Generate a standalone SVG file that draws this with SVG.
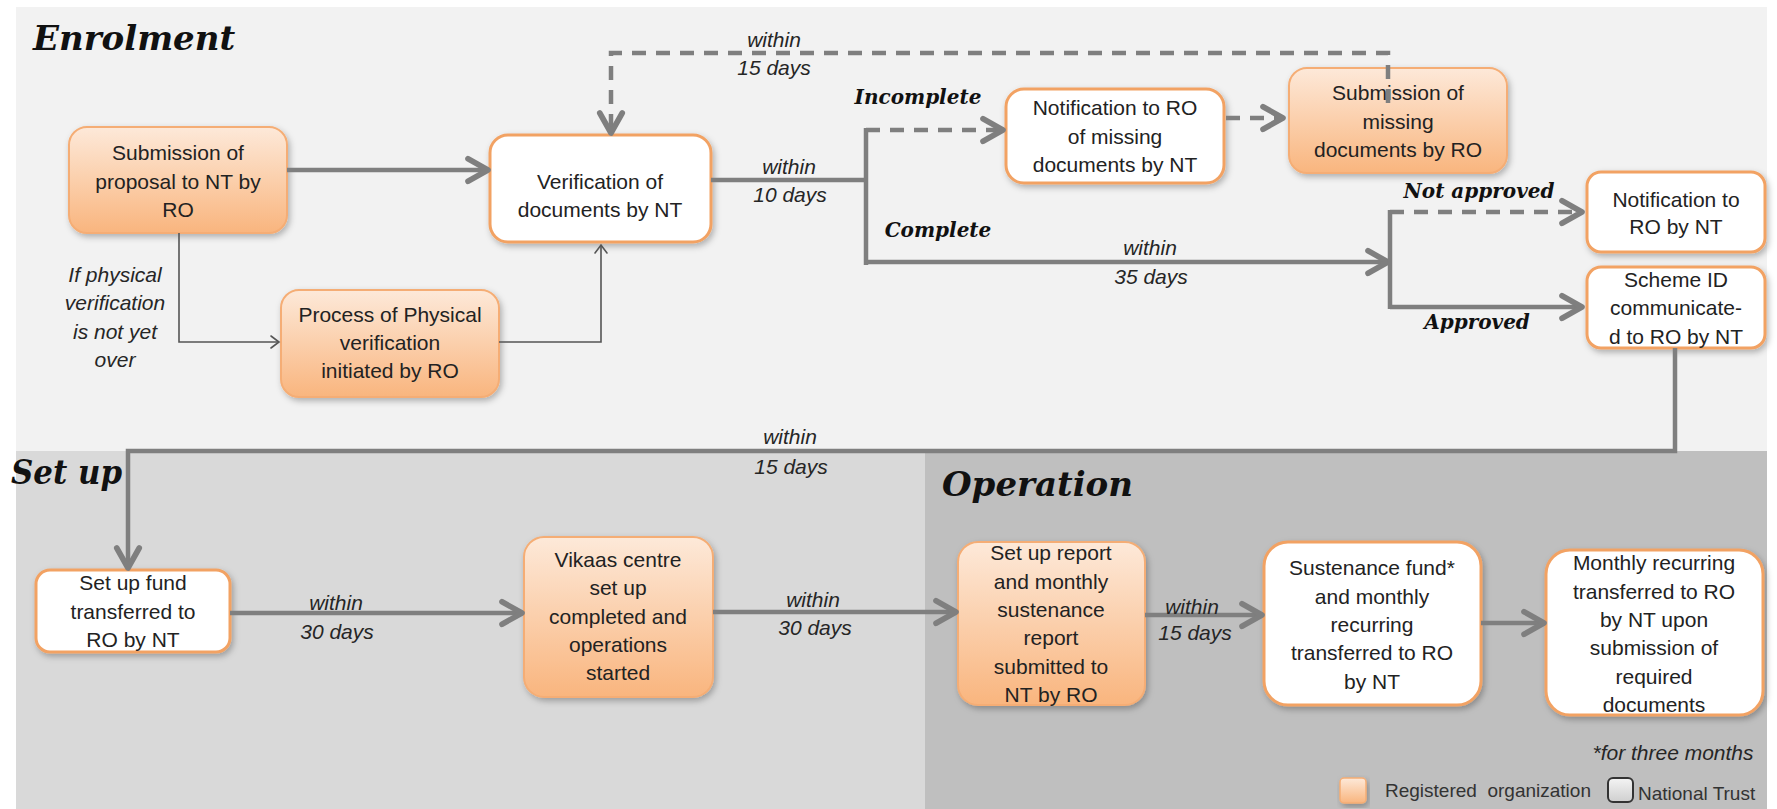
<svg xmlns="http://www.w3.org/2000/svg" width="1777" height="809" viewBox="0 0 1777 809">
<defs>
<linearGradient id="og" x1="0" y1="0" x2="0" y2="1">
<stop offset="0" stop-color="#fde9d9"/>
<stop offset="1" stop-color="#f9b57e"/>
</linearGradient>
<linearGradient id="gg" x1="0" y1="0" x2="0" y2="1">
<stop offset="0" stop-color="#f4f4f4"/>
<stop offset="1" stop-color="#cfcfcf"/>
</linearGradient>
<filter id="sh" x="-10%" y="-10%" width="125%" height="130%">
<feDropShadow dx="2" dy="3" stdDeviation="3" flood-color="#000" flood-opacity="0.28"/>
</filter>
<marker id="ah" markerUnits="userSpaceOnUse" markerWidth="30" markerHeight="30" viewBox="-20 -12 24 24" refX="0" refY="0" orient="auto">
<path d="M-16,-9 L0,0 L-16,9" fill="none" stroke="#7f7f7f" stroke-width="4.5" stroke-linecap="round" stroke-linejoin="round" stroke-dasharray="none"/>
</marker>
<marker id="at" markerUnits="userSpaceOnUse" markerWidth="16" markerHeight="16" viewBox="-10 -8 12 16" refX="0" refY="0" orient="auto">
<path d="M-8,-6 L0,0 L-8,6" fill="none" stroke="#555" stroke-width="1.6" stroke-linecap="round"/>
</marker>
</defs>
<style>
.org{fill:url(#og);stroke:#f5ad74;stroke-width:2;filter:url(#sh)}
.nt{fill:#fff;stroke:#f2a263;stroke-width:3;filter:url(#sh)}
.t{font-family:"Liberation Sans",Arial,sans-serif;font-size:21px;fill:#222;text-anchor:middle}
.it{font-family:"Liberation Sans",Arial,sans-serif;font-size:21px;font-style:italic;fill:#262626;text-anchor:middle}
.bl{font-family:"DejaVu Serif","Liberation Serif",serif;font-size:20px;font-style:italic;font-weight:bold;fill:#111;text-anchor:middle}
.ti{font-family:"DejaVu Serif","Liberation Serif",serif;font-size:34px;font-style:italic;font-weight:bold;fill:#111}
.c{fill:none;stroke:#7f7f7f;stroke-width:4.5}
.d{stroke-dasharray:14 10}
.thin{fill:none;stroke:#555;stroke-width:1.6}
.lg{font-family:"Liberation Sans",Arial,sans-serif;font-size:19px;fill:#333}
</style>
<rect x="0" y="0" width="1777" height="809" fill="#fff"/>
<g id="panels">
<rect x="16" y="7" width="1751" height="444" fill="#f2f2f2"/>
<rect x="16" y="451" width="909" height="358" fill="#d9d9d9"/>
<rect x="925" y="451" width="842" height="358" fill="#bfbfbf"/>
<text class="ti" x="33" y="50">Enrolment</text>
<text class="ti" x="11" y="484" font-size="31" textLength="111" lengthAdjust="spacingAndGlyphs">Set up</text>
<text class="ti" x="942" y="496">Operation</text>
</g>
<g id="n1">
<rect class="org" x="69" y="127" width="218" height="106" rx="18"/>
<text class="t"><tspan x="178" y="160">Submission of</tspan><tspan x="178" y="189">proposal to NT by</tspan><tspan x="178" y="217">RO</tspan></text>
</g>
<g id="n2">
<rect class="org" x="281" y="290" width="218" height="107" rx="18"/>
<text class="t"><tspan x="390" y="322">Process of Physical</tspan><tspan x="390" y="350">verification</tspan><tspan x="390" y="378">initiated by RO</tspan></text>
</g>
<g id="n3">
<rect class="nt" x="490" y="135" width="221" height="107" rx="18"/>
<text class="t"><tspan x="600" y="189">Verification of</tspan><tspan x="600" y="217">documents by NT</tspan></text>
</g>
<g id="n4">
<rect class="nt" x="1006" y="89" width="218" height="94" rx="18"/>
<text class="t"><tspan x="1115" y="115">Notification to RO</tspan><tspan x="1115" y="144">of missing</tspan><tspan x="1115" y="172">documents by NT</tspan></text>
</g>
<g id="n5">
<rect class="org" x="1289" y="68" width="218" height="105" rx="18"/>
<text class="t"><tspan x="1398" y="100">Submission of</tspan><tspan x="1398" y="129">missing</tspan><tspan x="1398" y="157">documents by RO</tspan></text>
</g>
<g id="n6">
<rect class="nt" x="1587" y="172" width="178" height="80" rx="14"/>
<text class="t"><tspan x="1676" y="207">Notification to</tspan><tspan x="1676" y="234">RO by NT</tspan></text>
</g>
<g id="n7">
<rect class="nt" x="1587" y="267" width="178" height="81" rx="14"/>
<text class="t"><tspan x="1676" y="287">Scheme ID</tspan><tspan x="1676" y="315">communicate-</tspan><tspan x="1676" y="344">d to RO by NT</tspan></text>
</g>
<g id="n8">
<rect class="nt" x="36" y="570" width="194" height="82" rx="14"/>
<text class="t"><tspan x="133" y="590">Set up fund</tspan><tspan x="133" y="619">transferred to</tspan><tspan x="133" y="647">RO by NT</tspan></text>
</g>
<g id="n9">
<rect class="org" x="524" y="537" width="189" height="160" rx="20"/>
<text class="t"><tspan x="618" y="567">Vikaas centre</tspan><tspan x="618" y="595">set up</tspan><tspan x="618" y="624">completed and</tspan><tspan x="618" y="652">operations</tspan><tspan x="618" y="680">started</tspan></text>
</g>
<g id="n10">
<rect class="org" x="958" y="542" width="187" height="163" rx="20"/>
<text class="t"><tspan x="1051" y="560">Set up report</tspan><tspan x="1051" y="589">and monthly</tspan><tspan x="1051" y="617">sustenance</tspan><tspan x="1051" y="645">report</tspan><tspan x="1051" y="674">submitted to</tspan><tspan x="1051" y="702">NT by RO</tspan></text>
</g>
<g id="n11">
<rect class="nt" x="1264" y="542" width="217" height="163" rx="24"/>
<text class="t"><tspan x="1372" y="575">Sustenance fund*</tspan><tspan x="1372" y="604">and monthly</tspan><tspan x="1372" y="632">recurring</tspan><tspan x="1372" y="660">transferred to RO</tspan><tspan x="1372" y="689">by NT</tspan></text>
</g>
<g id="n12">
<rect class="nt" x="1546" y="550" width="217" height="165" rx="24"/>
<text class="t"><tspan x="1654" y="570">Monthly recurring</tspan><tspan x="1654" y="599">transferred to RO</tspan><tspan x="1654" y="627">by NT upon</tspan><tspan x="1654" y="655">submission of</tspan><tspan x="1654" y="684">required</tspan><tspan x="1654" y="712">documents</tspan></text>
</g>
<g id="connectors">
<path class="c" d="M287,170 H488" marker-end="url(#ah)"/>
<path class="thin" d="M179,233 V342 H279" marker-end="url(#at)"/>
<path class="thin" d="M499,342 H601 V245" marker-end="url(#at)"/>
<path class="c" d="M711,180 H866"/>
<path class="c" d="M866,128 V265"/>
<path class="c d" d="M866,130 H1003" marker-end="url(#ah)"/>
<path class="c" d="M866,262 H1388" marker-end="url(#ah)"/>
<path class="c d" d="M1226,118 H1283" marker-end="url(#ah)"/>
<path class="c d" d="M1388,103 V53 H611 V133" marker-end="url(#ah)"/>
<path class="c" d="M1390,210 V309"/>
<path class="c d" d="M1390,212 H1582" marker-end="url(#ah)"/>
<path class="c" d="M1390,307 H1582" marker-end="url(#ah)"/>
<path class="c" d="M1675,348 V451 H128 V568" marker-end="url(#ah)"/>
<path class="c" d="M230,613 H522" marker-end="url(#ah)"/>
<path class="c" d="M713,612 H956" marker-end="url(#ah)"/>
<path class="c" d="M1145,615 H1262" marker-end="url(#ah)"/>
<path class="c" d="M1481,623 H1544" marker-end="url(#ah)"/>
</g>
<g id="labels">
<text class="it"><tspan x="774" y="47">within</tspan><tspan x="774" y="75">15 days</tspan></text>
<text class="it"><tspan x="789" y="174">within</tspan><tspan x="790" y="202">10 days</tspan></text>
<text class="it"><tspan x="1150" y="255">within</tspan><tspan x="1151" y="284">35 days</tspan></text>
<text class="it"><tspan x="115" y="282">If physical</tspan><tspan x="115" y="310">verification</tspan><tspan x="115" y="339">is not yet</tspan><tspan x="115" y="367">over</tspan></text>
<text class="it"><tspan x="790" y="444">within</tspan><tspan x="791" y="474">15 days</tspan></text>
<text class="it"><tspan x="336" y="610">within</tspan><tspan x="337" y="639">30 days</tspan></text>
<text class="it"><tspan x="813" y="607">within</tspan><tspan x="815" y="635">30 days</tspan></text>
<text class="it"><tspan x="1192" y="614">within</tspan><tspan x="1195" y="640">15 days</tspan></text>
<text class="bl" x="918" y="104">Incomplete</text>
<text class="bl" x="938" y="237">Complete</text>
<text class="bl" x="1479" y="198">Not approved</text>
<text class="bl" x="1477" y="329">Approved</text>
<text class="it" x="1673" y="760" font-size="20">*for three months</text>
</g>
<g id="legend">
<rect x="1340" y="778" width="26" height="25" rx="4" fill="url(#og)" stroke="#f5ad74" stroke-width="1.5" filter="url(#sh)"/>
<text class="lg" x="1385" y="797" xml:space="preserve">Registered  organization</text>
<rect x="1608" y="778" width="25" height="24" rx="5" fill="url(#gg)" stroke="#333" stroke-width="2"/>
<text class="lg" x="1638" y="800">National Trust</text>
</g>
</svg>
